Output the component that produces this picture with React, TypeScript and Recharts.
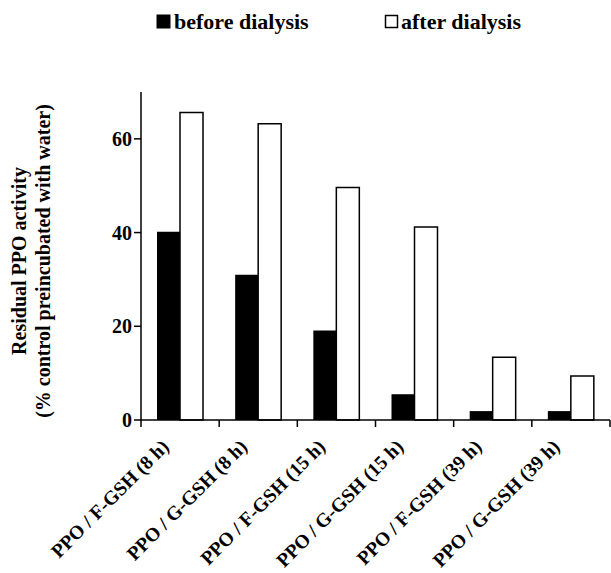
import React from 'react';
import { BarChart, Bar, XAxis, YAxis, Legend } from 'recharts';

const categories = [
  'PPO / F-GSH (8 h)',
  'PPO / G-GSH (8 h)',
  'PPO / F-GSH (15 h)',
  'PPO / G-GSH (15 h)',
  'PPO / F-GSH (39 h)',
  'PPO / G-GSH (39 h)',
];
const beforeDialysis = [40.2, 31.0, 19.1, 5.5, 1.9, 1.9];
const afterDialysis = [65.6, 63.2, 49.6, 41.2, 13.4, 9.4];
const yTicks = [0, 20, 40, 60];

const data = categories.map((c, i) => ({
  name: c,
  before: beforeDialysis[i],
  after: afterDialysis[i],
}));

const FONT = "'Liberation Serif', 'Times New Roman', serif";

const CategoryTick = (props: any) => {
  const { x, y, payload, index } = props;
  const half = payload && typeof payload.offset === 'number' ? payload.offset : 39;
  const axisY = y - 7;
  const ax = x - 10;
  const ay = y + 21;
  const isLast = index === categories.length - 1;
  return (
    <g>
      <line x1={x - half} x2={x - half} y1={axisY} y2={y} stroke="#000" strokeWidth={1.5} />
      {isLast && (
        <line x1={x + half} x2={x + half} y1={axisY} y2={y} stroke="#000" strokeWidth={1.5} />
      )}
      <text
        x={ax}
        y={ay}
        transform={`rotate(-45, ${ax}, ${ay})`}
        textAnchor="end"
        fontFamily={FONT}
        fontWeight="bold"
        fontSize={19.5}
        fill="#000"
      >
        {payload.value}
      </text>
    </g>
  );
};

const LegendContent = () => (
  <svg width={611} height={40} style={{ display: 'block' }}>
    <rect x={157} y={15} width={13} height={13} fill="#000" stroke="#000" strokeWidth={1} />
    <text x={174} y={29} fontFamily={FONT} fontWeight="bold" fontSize={22} fill="#000">
      before dialysis
    </text>
    <rect x={385.5} y={15.5} width={12} height={12} fill="#fff" stroke="#000" strokeWidth={1.5} />
    <text x={401} y={29} fontFamily={FONT} fontWeight="bold" fontSize={22} fill="#000">
      after dialysis
    </text>
  </svg>
);

const YTitle = (props: any) => {
  const vb = props.viewBox || { x: 0, y: 92, width: 141, height: 328 };
  const cy = vb.y + vb.height / 2 + 5;
  return (
    <g>
      <text
        x={26}
        y={cy}
        transform={`rotate(-90, 26, ${cy})`}
        textAnchor="middle"
        fontFamily={FONT}
        fontWeight="bold"
        fontSize={20}
        fill="#000"
      >
        Residual PPO activity
      </text>
      <text
        x={50}
        y={cy}
        transform={`rotate(-90, 50, ${cy})`}
        textAnchor="middle"
        fontFamily={FONT}
        fontWeight="bold"
        fontSize={20}
        fill="#000"
      >
        (% control preincubated with water)
      </text>
    </g>
  );
};

export default function App() {
  return (
    <div style={{ position: 'absolute', left: 0, top: 0, background: '#fff' }}>
      <BarChart
        width={611}
        height={573}
        data={data}
        margin={{ top: 92, right: 1, left: 0, bottom: 0 }}
        barGap={0}
      >
        <XAxis
          dataKey="name"
          interval={0}
          height={153}
          tickSize={7}
          tickMargin={0}
          tickLine={false}
          axisLine={{ stroke: '#000', strokeWidth: 1.5 }}
          tick={<CategoryTick />}
        />
        <YAxis
          width={141}
          domain={[0, 70]}
          ticks={yTicks}
          interval={0}
          tickSize={7}
          tickMargin={2}
          axisLine={{ stroke: '#000', strokeWidth: 1.5 }}
          tickLine={{ stroke: '#000', strokeWidth: 1.5 }}
          tick={{ fill: '#000', fontSize: 20, fontWeight: 'bold', fontFamily: FONT }}
          label={<YTitle />}
        />
        <Legend
          verticalAlign="middle"
          align="center"
          layout="horizontal"
          wrapperStyle={{ top: 0, left: 0, width: 611 }}
          content={<LegendContent />}
        />
        <Bar
          dataKey="before"
          name="before dialysis"
          fill="#000"
          barSize={23}
          isAnimationActive={false}
        />
        <Bar
          dataKey="after"
          name="after dialysis"
          fill="#fff"
          stroke="#000"
          strokeWidth={1.5}
          barSize={23}
          isAnimationActive={false}
        />
      </BarChart>
    </div>
  );
}
